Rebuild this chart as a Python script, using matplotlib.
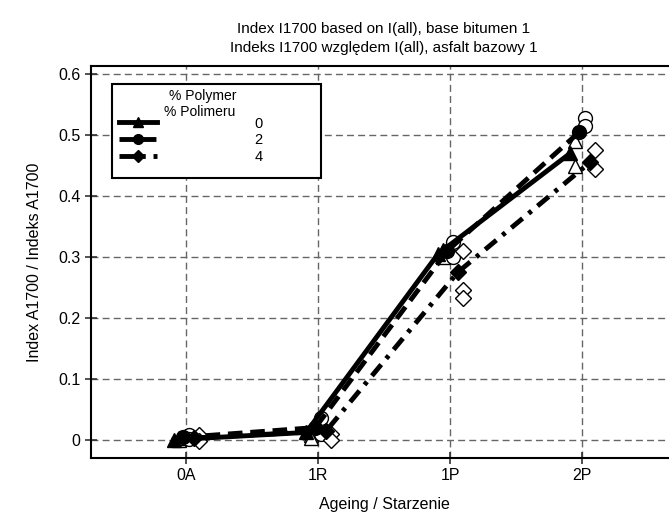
import numpy as np
import matplotlib
matplotlib.use("Agg")
import matplotlib.pyplot as plt
from matplotlib.lines import Line2D
from matplotlib.patches import Rectangle

plt.rcParams['font.family'] = ['Liberation Sans', 'DejaVu Sans']

# Data
categories = ['0A', '1R', '1P', '2P']
polymer_pct = ['0', '2', '4']

# mean values (filled markers, joined by lines)
mean_p0 = [0.000, 0.012, 0.305, 0.470]
mean_p2 = [0.004, 0.020, 0.310, 0.505]
mean_p4 = [0.003, 0.014, 0.275, 0.455]

# single measurements (open markers)
reps_p0 = [[0.000, 0.003], [0.008, 0.003], [0.300, 0.312], [0.450, 0.490]]
reps_p2 = [[0.008, 0.002], [0.035, 0.010], [0.325, 0.300], [0.528, 0.515]]
reps_p4 = [[0.007, -0.002], [0.010, 0.000], [0.310, 0.245, 0.232], [0.475, 0.445]]

fig = plt.figure(figsize=(6.69, 5.19), dpi=100)
ax = fig.add_axes([0.136, 0.1175, 0.876, 0.755])

x = np.arange(len(categories))
series = [
    (mean_p0, reps_p0, '^', '-', -0.09, None),
    (mean_p2, reps_p2, 'o', '--', -0.02, (3, 1.6)),
    (mean_p4, reps_p4, 'D', '-.', 0.06, (3, 1.6, 0.8, 1.6)),
]

handles = []
for mean, reps, mk, ls, dx, dashes in series:
    ms = 10 if mk != 'D' else 8
    line, = ax.plot(x + dx, mean, linestyle=ls, color='black', lw=3.5,
                    marker=mk, markersize=ms, markerfacecolor='black',
                    markeredgecolor='black', zorder=4)
    if dashes is not None:
        line.set_dashes(dashes)
    for i, vals in enumerate(reps):
        ax.plot([x[i] + dx + 0.04] * len(vals), vals, linestyle='none',
                marker=mk, markersize=ms, markerfacecolor='white',
                markeredgecolor='black', markeredgewidth=1.0, zorder=3)
    h = Line2D([], [], color='black', lw=3.5, linestyle=ls, marker=mk,
               markersize=7 if mk != 'D' else 6, markerfacecolor='black')
    if dashes is not None:
        h.set_dashes(dashes)
    handles.append(h)

ax.set_xlim(-0.72, 3.72)
ax.set_ylim(-0.03, 0.613)
ax.set_xticks(x)
ax.set_xticklabels(categories)
yt = [0, 0.1, 0.2, 0.3, 0.4, 0.5, 0.6]
ax.set_yticks(yt)
ax.set_yticklabels(['0'] + ['%.1f' % v for v in yt[1:]])
ax.tick_params(direction='inout', length=8, width=1.2, labelsize=11.5, color='#333333')
ax.grid(True, color='#666666', linestyle=(0, (5, 3)), lw=1.0)
ax.set_axisbelow(True)
for s in ax.spines.values():
    s.set_linewidth(1.5)

ax.set_title('Index I1700 based on I(all), base bitumen 1\nIndeks I1700 względem I(all), asfalt bazowy 1',
             fontsize=11, linespacing=1.45, pad=10)
ax.set_xlabel('Ageing / Starzenie', fontsize=11.5, labelpad=10)
ax.set_ylabel('Index A1700 / Indeks A1700', fontsize=11.5, labelpad=12)

# legend box drawn by hand to mimic the original layout
ax.add_patch(Rectangle((0.036, 0.714), 0.356, 0.24, transform=ax.transAxes,
                       facecolor='white', edgecolor='black', lw=1.5, zorder=6))
ax.text(0.19, 0.923, '% Polymer', transform=ax.transAxes, fontsize=10,
        ha='center', va='center', zorder=7)
ax.text(0.185, 0.882, '% Polimeru', transform=ax.transAxes, fontsize=10,
        ha='center', va='center', zorder=7)
leg = ax.legend(handles, polymer_pct, loc='upper left', frameon=False,
                bbox_to_anchor=(0.035, 0.89), borderpad=0, handlelength=2.6,
                handletextpad=6.7, labelspacing=0.2, fontsize=10.5)
leg.set_zorder(8)

fig.savefig('out.png', dpi=100)
